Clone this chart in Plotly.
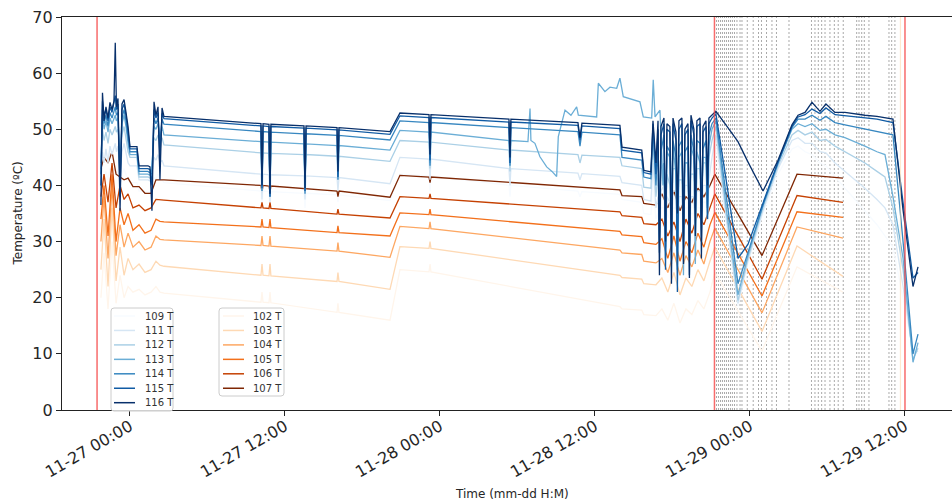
import pandas as pd
import plotly.graph_objects as go

START = pd.Timestamp("2023-11-27 00:00")

# ---------------------------------------------------------------------------
# Sample times, in hours elapsed since 11-27 00:00
# ---------------------------------------------------------------------------
blue_hours_run1 = [
    -2.25, -2.13, -2.01, -1.86, -1.70, -1.55, -1.39, -1.24, -1.14, -1.05,
    -0.93, -0.77, -0.62, -0.46, -0.31, -0.15, 0.00, 0.54, 0.70, 1.39,
    1.55, 1.70, 1.86, 2.01, 2.17, 2.32, 2.48, 2.63, 10.14, 10.22,
    10.30, 10.76, 10.84, 10.91, 13.47, 13.55, 13.63, 16.03, 16.10, 16.18,
    20.13, 20.90, 23.15, 23.23, 23.30, 29.34, 29.42, 29.49, 34.68, 34.84,
    34.99, 37.93, 38.09, 39.62, 39.78, 40.33, 40.49, 40.72,
]
# unstable period before the second run (fast readings)
blue_hours_unstable = [
    40.88, 40.99, 41.11, 41.34, 41.46, 41.57, 41.80, 41.92, 42.04, 42.27,
    42.38, 42.50, 42.73, 42.85, 42.96, 43.20, 43.31, 43.43, 43.66, 43.77,
    43.89, 44.13, 44.24, 44.36, 44.59, 44.71, 44.82, 45.06,
]
blue_hours_run2 = [
    45.36, 46.22, 47.07, 47.84, 49.01, 50.17, 51.25, 51.72, 52.26, 52.80,
    53.42, 53.88, 54.58, 55.35, 56.13, 56.90, 57.83, 58.45, 59.07, 59.85,
    60.62, 61.01,
]
blue_hours = blue_hours_run1 + blue_hours_unstable + blue_hours_run2

# sensor 113 drifted on its own between 11-28 06:48 and 11-28 17:15
hours_113_drift = [
    30.81, 30.97, 31.04, 31.35, 31.74, 32.26, 32.67, 33.03, 33.16, 33.68,
    34.14, 34.58, 34.71, 36.13, 36.26, 36.77, 37.16, 37.68, 37.93, 38.19,
    38.96, 39.48, 39.74, 40.39, 40.51, 40.65, 41.03, 41.26,
]

orange_hours = [
    -2.25, -2.01, -1.70, -1.39, -1.08, -0.77, -0.46, -0.15, 0.23, 0.70,
    1.16, 1.63, 2.01, 2.32, 2.63, 10.14, 10.22, 10.30, 10.76, 10.84,
    10.91, 16.03, 16.10, 16.18, 20.13, 20.90, 23.15, 23.23, 23.30, 37.93,
    38.09, 39.62, 39.78, 40.72, 41.18, 41.64, 42.11, 42.58, 43.04, 43.50,
    43.97, 44.43, 44.90, 45.28, 48.93, 51.64, 55.20,
]

# ---------------------------------------------------------------------------
# Temperatures (ºC)
# ---------------------------------------------------------------------------
temp_109 = [
    40.0, 42.0, 41.0, 42.5, 41.0, 43.0, 42.0, 43.0, 43.0, 42.0, 43.0, 40.0, 42.0, 43.0,
    42.0, 41.0, 40.5, 40.5, 39.0, 39.0, 38.8, 39.5, 41.5, 41.0, 42.0, 41.0, 41.0, 40.5,
    39.0, 36.0, 39.0, 38.9, 35.5, 38.9, 38.6, 36.0, 38.6, 38.3, 37.0, 38.3, 37.3,
    42.0, 41.7, 39.0, 41.7, 40.0, 38.0, 40.0, 39.0, 38.0, 38.9, 38.4, 37.5, 37.0, 35.0, 34.8, 40.0, 34.0,
    35.0, 29.0, 36.0, 36.0, 28.0, 35.0, 34.0, 30.0, 36.0, 36.0, 27.0, 35.0, 35.0, 30.0,
    36.0, 36.0, 28.0, 35.0, 35.0, 29.0, 36.0, 36.0, 31.0, 37.0, 37.0, 32.0, 38.0, 42.0,
    47.0, 32.0, 18.5, 26.0, 35.0, 42.0, 46.5, 47.0, 46.0, 45.5, 44.0, 43.5, 41.5, 39.5, 37.5, 35.5, 33.0, 31.0, 29.0, 20.0, 10.5, 10.0,
]
temp_111 = [
    43.0, 46.0, 44.0, 46.5, 44.0, 47.0, 45.5, 47.0, 47.5, 46.0, 47.0, 42.0, 46.0, 47.5,
    45.5, 44.0, 43.5, 43.5, 41.0, 41.0, 40.8, 42.0, 45.0, 44.5, 45.5, 44.0, 44.5, 43.5,
    42.0, 37.5, 42.0, 41.9, 37.0, 41.9, 41.7, 37.5, 41.7, 41.4, 39.0, 41.4, 40.3,
    45.0, 44.7, 41.0, 44.7, 43.0, 40.0, 43.0, 42.2, 41.0, 42.1, 41.6, 40.5, 40.0, 37.5, 37.2, 44.0, 36.0,
    38.0, 30.0, 39.0, 40.0, 28.0, 38.0, 37.0, 31.0, 39.0, 39.0, 27.0, 38.0, 38.0, 32.0,
    40.0, 40.0, 29.0, 38.0, 38.0, 30.0, 39.0, 39.0, 33.0, 40.0, 40.0, 34.0, 41.0, 45.0,
    49.0, 33.0, 19.0, 26.5, 35.5, 43.0, 48.0, 48.5, 47.5, 47.5, 46.0, 45.8, 44.0, 42.5, 41.0, 39.5, 37.5, 36.0, 33.0, 22.0, 10.0, 10.5,
]
temp_112 = [
    45.0, 50.0, 48.0, 49.5, 47.5, 50.0, 49.0, 50.0, 50.5, 49.5, 50.0, 43.0, 49.0, 50.5,
    48.5, 46.0, 45.0, 45.0, 41.5, 41.5, 41.3, 43.5, 48.5, 48.0, 49.0, 47.5, 48.5, 47.2,
    45.8, 39.0, 45.8, 45.7, 38.5, 45.7, 45.5, 39.0, 45.5, 45.2, 41.0, 45.2, 44.3,
    48.0, 47.7, 43.0, 47.7, 46.3, 42.5, 46.3, 45.5, 44.0, 45.4, 45.0, 43.5, 43.0, 39.7, 39.5, 48.0, 38.0,
    42.0, 30.0, 43.0, 44.0, 28.0, 42.0, 40.0, 32.0, 43.0, 43.0, 27.0, 41.0, 41.0, 33.0,
    44.0, 44.0, 29.0, 42.0, 42.0, 31.0, 43.0, 43.0, 35.0, 44.0, 44.0, 36.0, 45.0, 48.0,
    50.5, 34.0, 19.5, 27.0, 36.0, 43.5, 49.0, 49.8, 49.0, 49.5, 48.0, 48.2, 47.0, 46.0, 45.0, 44.0, 42.5, 41.5, 36.0, 25.0, 9.0, 11.0,
]
temp_113_before = [
    44.0, 52.5, 50.0, 51.5, 49.5, 52.0, 51.0, 52.0, 52.5, 51.5, 52.0, 42.0, 51.0, 52.5,
    50.5, 47.5, 45.5, 45.5, 42.0, 42.0, 41.8, 43.0, 50.5, 50.0, 51.0, 48.0, 50.5, 49.0,
    47.8, 40.0, 47.8, 47.7, 39.0, 47.7, 47.4, 40.0, 47.4, 47.1, 42.0, 47.1, 46.3,
    49.8, 49.5, 44.0, 49.5, 48.0, 44.0, 48.0,
]
temp_113_drift = [
    47.8, 53.7, 48.0, 47.5, 45.1, 43.3, 42.5, 41.6, 48.7, 53.4,
    52.5, 54.0, 52.5, 52.2, 58.2, 56.7, 57.5, 57.3, 59.1, 55.8,
    55.2, 54.9, 52.2, 52.0, 58.8, 52.2, 53.4, 40.0,
]
temp_113_after = [
    44.0, 29.0, 46.0, 45.0, 26.0, 47.0, 42.0, 33.0, 45.0, 46.0, 24.0, 44.0,
    44.0, 30.0, 47.0, 45.0, 26.0, 46.0, 44.0, 32.0, 45.0, 45.0, 34.0, 47.0, 50.0,
    51.5, 35.0, 20.5, 27.5, 36.5, 44.0, 50.0, 51.0, 50.5, 51.0, 49.8, 50.0, 49.0, 48.5, 47.8, 47.0, 46.0, 45.5, 38.0, 27.0, 8.5, 12.0,
]
temp_114 = [
    42.0, 53.5, 51.0, 52.5, 50.5, 53.0, 52.0, 53.0, 54.0, 52.5, 53.0, 40.0, 52.0, 53.5,
    51.5, 48.5, 46.0, 46.0, 42.5, 42.5, 42.3, 42.0, 52.0, 51.0, 52.0, 47.0, 51.8, 50.9,
    49.6, 39.0, 49.6, 49.5, 38.0, 49.5, 49.2, 38.5, 49.2, 48.9, 41.0, 48.9, 48.1,
    51.5, 51.2, 43.5, 51.2, 50.3, 43.5, 50.3, 49.6, 47.0, 49.5, 49.0, 45.0, 44.5, 41.5, 41.2, 50.0, 40.0,
    47.0, 30.0, 46.0, 49.0, 27.0, 47.0, 46.0, 34.0, 48.0, 45.0, 25.0, 47.0, 48.0, 31.0,
    46.0, 47.0, 27.0, 49.0, 46.0, 35.0, 48.0, 47.5, 33.0, 46.5, 48.0, 36.0, 49.0, 51.0,
    52.0, 37.0, 22.5, 28.0, 36.5, 44.0, 50.3, 51.8, 51.8, 52.5, 51.6, 52.3, 51.2, 50.8, 50.4, 50.0, 49.6, 49.3, 49.0, 30.0, 10.0, 13.5,
]
temp_115 = [
    40.0, 55.0, 52.5, 53.5, 51.5, 54.0, 53.0, 54.5, 56.0, 53.5, 54.5, 38.0, 53.5, 54.5,
    52.5, 49.5, 46.5, 46.5, 43.0, 43.0, 42.8, 40.0, 53.5, 52.0, 53.0, 45.0, 52.8, 51.9,
    50.6, 39.5, 50.6, 50.5, 38.0, 50.5, 50.2, 39.0, 50.2, 49.9, 41.5, 49.9, 49.1,
    52.4, 52.1, 44.5, 52.1, 51.3, 44.0, 51.3, 50.7, 48.0, 50.6, 50.1, 46.3, 45.8, 42.3, 42.0, 51.0, 42.0,
    50.0, 28.0, 49.0, 51.0, 25.0, 50.0, 49.5, 33.0, 51.0, 48.0, 21.0, 50.0, 51.0, 30.0,
    49.0, 50.0, 24.0, 51.5, 49.0, 36.0, 50.5, 51.0, 30.0, 49.5, 50.5, 34.0, 51.0, 52.0,
    52.8, 40.0, 27.0, 29.5, 37.0, 44.2, 50.5, 52.2, 52.6, 53.6, 52.8, 53.8, 52.6, 52.4, 52.2, 52.0, 51.8, 51.5, 51.2, 37.0, 23.5, 24.5,
]
temp_116 = [
    36.5, 56.5, 51.5, 54.0, 52.0, 54.8, 53.5, 55.0, 65.4, 54.0, 55.5, 35.5, 54.5, 55.3,
    53.0, 50.5, 46.9, 46.9, 43.5, 43.5, 43.3, 35.5, 54.9, 52.5, 54.0, 41.0, 53.8, 52.3,
    51.0, 40.0, 51.0, 50.9, 38.5, 50.9, 50.6, 39.5, 50.6, 50.3, 42.5, 50.3, 49.6,
    52.9, 52.6, 45.5, 52.6, 51.8, 45.0, 51.8, 51.2, 48.5, 51.1, 50.7, 46.8, 46.3, 42.7, 42.4, 51.5, 44.0,
    51.5, 24.0, 50.5, 52.0, 30.0, 51.0, 50.5, 22.5, 52.0, 49.5, 35.0, 51.5, 52.0, 26.0,
    50.0, 51.0, 23.5, 52.5, 50.0, 31.0, 51.5, 52.0, 27.0, 50.5, 51.5, 40.0, 52.0, 52.5,
    53.2, 50.5, 47.8, 44.2, 39.0, 44.5, 50.8, 52.5, 53.0, 54.8, 53.2, 54.5, 53.0, 53.0, 52.7, 52.5, 52.3, 52.1, 51.8, 35.6, 22.0, 25.5,
]

temp_102 = [
    20.0, 28.0, 18.0, 30.0, 19.0, 24.0, 20.0, 22.0, 21.0, 21.5, 20.5, 21.0, 22.0, 21.0, 20.8,
    19.2, 21.0, 19.2, 19.1, 21.0, 19.1, 17.4, 19.0, 17.4,
    16.0, 25.0, 24.6, 26.0, 24.6,
    18.4, 18.0, 17.8, 17.0, 16.8,
    18.0, 16.0, 19.0, 15.5, 18.0, 17.0, 19.5, 18.0, 21.0,
    24.5, 10.5, 25.5, 21.0,
]
temp_103 = [
    25.0, 34.0, 22.0, 36.0, 23.0, 29.0, 24.0, 27.0, 25.0, 26.0, 24.5, 25.0, 26.5, 25.8, 25.6,
    24.0, 26.0, 24.0, 23.9, 26.0, 23.9, 22.9, 24.5, 22.9,
    21.5, 29.1, 28.8, 30.0, 28.8,
    24.0, 23.6, 23.3, 22.5, 22.3,
    23.5, 21.0, 24.5, 20.5, 23.5, 22.0, 25.0, 23.0, 26.5,
    29.0, 14.0, 29.2, 23.8,
]
temp_104 = [
    30.0, 38.0, 27.0, 40.0, 27.5, 33.0, 29.0, 31.5, 29.0, 30.0, 28.5, 29.0, 31.0, 30.4, 30.3,
    29.3, 31.0, 29.3, 29.2, 31.0, 29.2, 28.3, 29.8, 28.3,
    27.2, 32.7, 32.3, 33.5, 32.3,
    28.5, 28.0, 27.7, 26.5, 26.2,
    27.0, 24.5, 28.0, 24.0, 27.5, 25.5, 28.5, 26.0, 30.0,
    32.4, 17.3, 32.6, 30.6,
]
temp_105 = [
    34.0, 40.0, 31.0, 42.0, 30.0, 36.0, 33.0, 35.0, 32.0, 33.0, 31.5, 32.0, 34.0, 33.6, 33.5,
    32.6, 34.0, 32.6, 32.5, 34.0, 32.5, 31.6, 32.8, 31.6,
    31.0, 35.1, 34.8, 35.8, 34.8,
    31.8, 31.2, 30.9, 29.8, 29.5,
    30.5, 27.0, 31.0, 26.5, 30.0, 28.0, 31.5, 29.0, 33.0,
    35.2, 20.3, 35.3, 34.3,
]
temp_106 = [
    38.0, 42.0, 37.0, 44.0, 36.0, 40.0, 37.5, 38.5, 36.0, 36.5, 35.5, 36.0, 37.5, 37.4, 37.4,
    36.0, 37.0, 36.0, 35.9, 37.0, 35.9, 34.9, 35.8, 34.9,
    34.2, 38.0, 37.7, 38.5, 37.7,
    35.3, 34.6, 34.3, 33.2, 33.0,
    34.0, 31.0, 33.5, 30.0, 34.0, 31.5, 35.0, 33.0, 36.0,
    38.5, 23.3, 38.2, 37.0,
]
temp_107 = [
    43.0, 45.0, 44.0, 46.0, 42.0, 41.5, 41.0, 41.3, 39.8, 39.8, 38.6, 38.6, 41.0, 41.0, 41.0,
    40.0, 38.8, 40.0, 39.9, 38.8, 39.9, 39.0, 38.0, 39.0,
    37.9, 41.8, 41.5, 40.5, 41.5,
    39.2, 38.2, 38.0, 36.8, 36.5,
    38.5, 36.0, 39.0, 35.5, 38.0, 37.0, 39.5, 38.0, 40.0,
    42.0, 27.5, 42.0, 41.3,
]

# sampling events (dashed) and run boundaries (solid), hours since 11-27 00:00
event_hours = [
    45.41, 45.56, 45.72, 45.87, 46.03, 46.18, 46.34, 46.49, 46.64, 46.80,
    46.99, 47.23, 47.38, 47.79, 48.25, 48.66, 48.89, 49.28, 49.70, 50.05,
    51.02, 52.76, 53.03, 53.29, 53.55, 53.81, 54.19, 54.53, 54.83, 55.22,
    56.26, 56.44, 56.65, 56.85, 57.21, 58.76, 58.97, 59.22,
]
boundary_hours = [-2.55, 45.25, 60.0]
door_hours = [59.65]

x_window_hours = [-5.264, 63.64]
tick_hours = [0, 12, 24, 36, 48, 60]

blue_names = ["109 T", "111 T", "112 T", "113 T", "114 T", "115 T", "116 T"]
blue_colors = ["#f7fbff", "#d6e6f4", "#abd0e6", "#6baed6", "#3787c0", "#105ba4", "#08306b"]
orange_names = ["102 T", "103 T", "104 T", "105 T", "106 T", "107 T"]
orange_colors = ["#fff5eb", "#fed9b4", "#fda762", "#f3701b", "#c54102", "#7f2704"]


def at(hours):
    return [START + pd.Timedelta(hours=h) for h in hours]


hours_113 = blue_hours[:48] + hours_113_drift + blue_hours[61:]
temp_113 = temp_113_before + temp_113_drift + temp_113_after

blue_series = {
    "109 T": (blue_hours, temp_109),
    "111 T": (blue_hours, temp_111),
    "112 T": (blue_hours, temp_112),
    "113 T": (hours_113, temp_113),
    "114 T": (blue_hours, temp_114),
    "115 T": (blue_hours, temp_115),
    "116 T": (blue_hours, temp_116),
}
orange_series = {
    "102 T": temp_102, "103 T": temp_103, "104 T": temp_104,
    "105 T": temp_105, "106 T": temp_106, "107 T": temp_107,
}

fig = go.Figure()

draw_order = [("109 T", "b")] + [(n, "o") for n in orange_names] + [(n, "b") for n in blue_names[1:]]
for name, group in draw_order:
    if group == "b":
        hrs, vals = blue_series[name]
        color = blue_colors[blue_names.index(name)]
    else:
        hrs, vals = orange_hours, orange_series[name]
        color = orange_colors[orange_names.index(name)]
    fig.add_trace(go.Scatter(
        x=at(hrs), y=vals, mode="lines", name=name, showlegend=False,
        line=dict(color=color, width=1.3), hoverinfo="skip",
    ))

shapes = []
for h in event_hours:
    t = START + pd.Timedelta(hours=h)
    shapes.append(dict(type="line", xref="x", yref="paper", x0=t, x1=t, y0=0, y1=1,
                       line=dict(color="rgba(110,110,110,0.75)", width=0.8, dash="2px,2px"),
                       layer="below"))
for h in door_hours:
    t = START + pd.Timedelta(hours=h)
    shapes.append(dict(type="line", xref="x", yref="paper", x0=t, x1=t, y0=0, y1=1,
                       line=dict(color="rgba(253,215,170,0.55)", width=1.2), layer="above"))
for h in boundary_hours:
    t = START + pd.Timedelta(hours=h)
    shapes.append(dict(type="line", xref="x", yref="paper", x0=t, x1=t, y0=0, y1=1,
                       line=dict(color="rgba(245,70,70,0.8)", width=1.5), layer="above"))

# ---- legends (two framed boxes in the lower-left corner) ----
W, H = 952, 503
L, R, T, B = 62, 0, 17, 93
PW, PH = W - L - R, H - T - B


def px(x):
    return (x - L) / PW


def py(y):
    return (H - B - y) / PH


def round_box(x0, y0, x1, y1, r=3):
    pts = (f"M {px(x0 + r)},{py(y0)} L {px(x1 - r)},{py(y0)} "
           f"Q {px(x1)},{py(y0)} {px(x1)},{py(y0 + r)} L {px(x1)},{py(y1 - r)} "
           f"Q {px(x1)},{py(y1)} {px(x1 - r)},{py(y1)} L {px(x0 + r)},{py(y1)} "
           f"Q {px(x0)},{py(y1)} {px(x0)},{py(y1 - r)} L {px(x0)},{py(y0 + r)} "
           f"Q {px(x0)},{py(y0)} {px(x0 + r)},{py(y0)} Z")
    return dict(type="path", xref="paper", yref="paper", path=pts,
                fillcolor="rgba(255,255,255,0.8)", line=dict(color="#cccccc", width=1),
                layer="above")


annotations = []
legend_boxes = [
    (blue_names, blue_colors, (111, 308, 173, 411), 114, 135, 142.5),
    (orange_names, orange_colors, (219, 308, 284, 396), 223, 244, 251.0),
]
row0, row_step = 316.0, 14.45
for names, colors, box, lx0, lx1, tx in legend_boxes:
    shapes.append(round_box(*box))
    for i, (n, c) in enumerate(zip(names, colors)):
        yy = row0 + i * row_step
        shapes.append(dict(type="line", xref="paper", yref="paper",
                           x0=px(lx0), x1=px(lx1), y0=py(yy), y1=py(yy),
                           line=dict(color=c, width=1.5), layer="above"))
        annotations.append(dict(xref="paper", yref="paper", x=px(tx), y=py(yy),
                                text=n, showarrow=False, xanchor="left", yanchor="middle",
                                font=dict(family="DejaVu Sans", size=10, color="#333333")))

annotations.append(dict(xref="paper", yref="paper", x=px(512), y=py(494),
                        text="Time (mm-dd H:M)", showarrow=False,
                        xanchor="center", yanchor="middle",
                        font=dict(family="DejaVu Sans", size=12, color="#262626")))
annotations.append(dict(xref="paper", yref="paper", x=px(17), y=0.5,
                        text="Temperature (ºC)", showarrow=False, textangle=-90,
                        xanchor="center", yanchor="middle",
                        font=dict(family="DejaVu Sans", size=12, color="#262626")))

fig.update_layout(
    width=W, height=H,
    margin=dict(l=L, r=R, t=T, b=B, pad=0),
    paper_bgcolor="white", plot_bgcolor="white",
    showlegend=False,
    shapes=shapes, annotations=annotations,
    font=dict(family="DejaVu Sans", color="#262626"),
)
fig.update_xaxes(
    type="date", range=at(x_window_hours), automargin=False,
    tickvals=at(tick_hours), tickformat="%m-%d %H:%M", tickangle=-30,
    ticks="outside", ticklen=5, tickwidth=1.2, tickcolor="#222222",
    ticklabelstandoff=-5,
    tickfont=dict(family="DejaVu Sans", size=16, color="#262626"),
    showgrid=False, zeroline=False,
    showline=True, linecolor="#222222", linewidth=1.3, mirror=True,
)
fig.update_yaxes(
    range=[0, 70], dtick=10, automargin=False,
    ticks="outside", ticklen=5, tickwidth=1.2, tickcolor="#222222",
    tickfont=dict(family="DejaVu Sans", size=16, color="#262626"),
    showgrid=False, zeroline=False,
    showline=True, linecolor="#222222", linewidth=1.3, mirror=False,
)

fig.write_html("out.html")
